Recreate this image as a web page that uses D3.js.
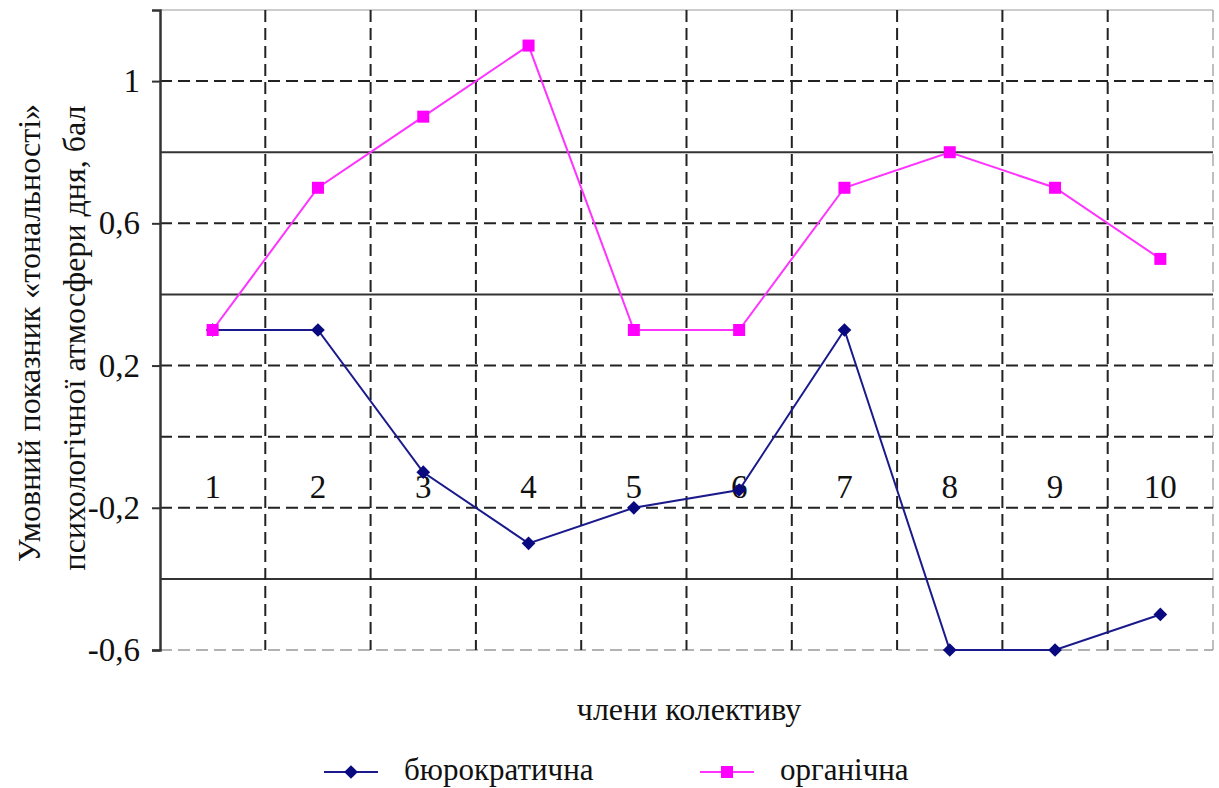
<!DOCTYPE html>
<meta charset="utf-8">
<script src="https://d3js.org/d3.v7.min.js"></script>
<style>
  body { margin: 0; background: #fff; }
  svg text { font-family: "Liberation Serif", "Times New Roman", "DejaVu Serif", serif; fill: #111; }
</style>
<div id="my_dataviz"></div>
<script>

// data
var members = ["1", "2", "3", "4", "5", "6", "7", "8", "9", "10"];
var bureaucratic = [0.3, 0.3, -0.1, -0.3, -0.2, -0.15, 0.3, -0.6, -0.6, -0.5];
var organic = [0.3, 0.7, 0.9, 1.1, 0.3, 0.3, 0.7, 0.8, 0.7, 0.5];
var yTickLabels = [1, 0.6, 0.2, -0.2, -0.6];
var dashedGrid = [1, 0.6, 0.2, 0, -0.2];
var solidGrid = [0.8, 0.4, -0.4];

var W = 1219, H = 788;
var margin = {top: 10, right: 6, bottom: 138, left: 160},
    width = W - margin.left - margin.right,
    height = H - margin.top - margin.bottom;

var svg = d3.select("#my_dataviz")
  .append("svg")
    .attr("width", W)
    .attr("height", H)
  .append("g")
    .attr("transform", "translate(" + margin.left + "," + margin.top + ")");

var x = d3.scaleBand()
  .domain(members)
  .range([0, width]);

var y = d3.scaleLinear()
  .domain([-0.6, 1.2])
  .range([height, 0]);

var fmt = function(d) { return String(d).replace(".", ","); };
var serif = "'Liberation Serif', 'Times New Roman', 'DejaVu Serif', serif";

// outer light frame (top, right, bottom)
svg.append("line")
  .attr("x1", 0).attr("x2", width).attr("y1", 0).attr("y2", 0)
  .attr("stroke", "#bbb").attr("stroke-width", 1.5);
svg.append("line")
  .attr("x1", width).attr("x2", width).attr("y1", 0).attr("y2", height)
  .attr("stroke", "#aaa").attr("stroke-width", 1.5).attr("stroke-dasharray", "12,6");
svg.append("line")
  .attr("x1", 0).attr("x2", width).attr("y1", height).attr("y2", height)
  .attr("stroke", "#999").attr("stroke-width", 1.5).attr("stroke-dasharray", "12,6");

// horizontal gridlines
svg.selectAll(".hdash")
  .data(dashedGrid)
  .enter()
  .append("line")
    .attr("x1", 0).attr("x2", width)
    .attr("y1", function(d) { return y(d); })
    .attr("y2", function(d) { return y(d); })
    .attr("stroke", "#222")
    .attr("stroke-width", 2)
    .attr("stroke-dasharray", "12,6");

svg.selectAll(".hsolid")
  .data(solidGrid)
  .enter()
  .append("line")
    .attr("x1", 0).attr("x2", width)
    .attr("y1", function(d) { return y(d); })
    .attr("y2", function(d) { return y(d); })
    .attr("stroke", "#333")
    .attr("stroke-width", 2);

// vertical gridlines between categories
svg.selectAll(".vdash")
  .data(members.slice(1))
  .enter()
  .append("line")
    .attr("x1", function(d) { return x(d); })
    .attr("x2", function(d) { return x(d); })
    .attr("y1", 0).attr("y2", height)
    .attr("stroke", "#222")
    .attr("stroke-width", 2)
    .attr("stroke-dasharray", "12,6");

// Y axis
var yAxis = svg.append("g")
  .call(d3.axisLeft(y).tickValues(yTickLabels).tickSize(8).tickPadding(12).tickFormat(fmt));
yAxis.attr("font-family", null).attr("font-size", null);
yAxis.select(".domain").attr("stroke", "#333").attr("stroke-width", 2.5);
yAxis.selectAll(".tick line").attr("stroke", "#333").attr("stroke-width", 2);
yAxis.selectAll(".tick text")
  .style("font-family", serif)
  .style("font-size", "33px")
  .attr("fill", "#111");

// X axis labels placed at the zero line
var xAxis = svg.append("g")
  .attr("transform", "translate(0," + y(0) + ")")
  .call(d3.axisBottom(x).tickSize(0).tickPadding(38));
xAxis.attr("font-family", null).attr("font-size", null);
xAxis.select(".domain").remove();
xAxis.selectAll(".tick text")
  .style("font-family", serif)
  .style("font-size", "33px")
  .attr("fill", "#111");

// lines
var line = d3.line()
  .x(function(d, i) { return x(members[i]) + x.bandwidth() / 2; })
  .y(function(d) { return y(d); });

svg.append("path")
  .datum(bureaucratic)
  .attr("fill", "none")
  .attr("stroke", "#1a1a8c")
  .attr("stroke-width", 2)
  .attr("d", line);

svg.append("path")
  .datum(organic)
  .attr("fill", "none")
  .attr("stroke", "#ff33ff")
  .attr("stroke-width", 2)
  .attr("d", line);

// markers
svg.selectAll(".diamond")
  .data(bureaucratic)
  .enter()
  .append("path")
    .attr("d", d3.symbol().type(d3.symbolDiamond2).size(120))
    .attr("transform", function(d, i) {
      return "translate(" + (x(members[i]) + x.bandwidth() / 2) + "," + y(d) + ")";
    })
    .attr("fill", "#0a0a80");

svg.selectAll(".square")
  .data(organic)
  .enter()
  .append("rect")
    .attr("x", function(d, i) { return x(members[i]) + x.bandwidth() / 2 - 6; })
    .attr("y", function(d) { return y(d) - 6; })
    .attr("width", 12)
    .attr("height", 12)
    .attr("fill", "#ff00ff");

// axis titles
var root = d3.select("svg");
root.append("text")
  .attr("transform", "translate(40,333) rotate(-90)")
  .attr("text-anchor", "middle")
  .style("font-family", serif)
  .style("font-size", "32px")
  .text("Умовний показник «тональності»");
root.append("text")
  .attr("transform", "translate(85,338) rotate(-90)")
  .attr("text-anchor", "middle")
  .style("font-family", serif)
  .style("font-size", "32px")
  .text("психологічної атмосфери дня, бал");

root.append("text")
  .attr("x", 689)
  .attr("y", 720)
  .attr("text-anchor", "middle")
  .style("font-family", serif)
  .style("font-size", "32px")
  .text("члени колективу");

// legend
var legend = [
  {name: "бюрократична", color: "#1a1a8c", marker: "diamond", x: 324},
  {name: "органічна", color: "#ff33ff", marker: "square", x: 700}
];
var lg = root.selectAll(".legend")
  .data(legend)
  .enter()
  .append("g")
    .attr("transform", function(d) { return "translate(" + d.x + ",772)"; });
lg.append("line")
  .attr("x1", 0).attr("x2", 54)
  .attr("stroke", function(d) { return d.color; })
  .attr("stroke-width", 2);
lg.each(function(d) {
  var g = d3.select(this);
  if (d.marker === "diamond") {
    g.append("path")
      .attr("d", d3.symbol().type(d3.symbolDiamond2).size(120))
      .attr("transform", "translate(27,0)")
      .attr("fill", "#0a0a80");
  } else {
    g.append("rect")
      .attr("x", 21).attr("y", -6).attr("width", 12).attr("height", 12)
      .attr("fill", "#ff00ff");
  }
});
lg.append("text")
  .attr("x", 80)
  .attr("y", 8)
  .style("font-family", serif)
  .style("font-size", "31px")
  .text(function(d) { return d.name; });

</script>
